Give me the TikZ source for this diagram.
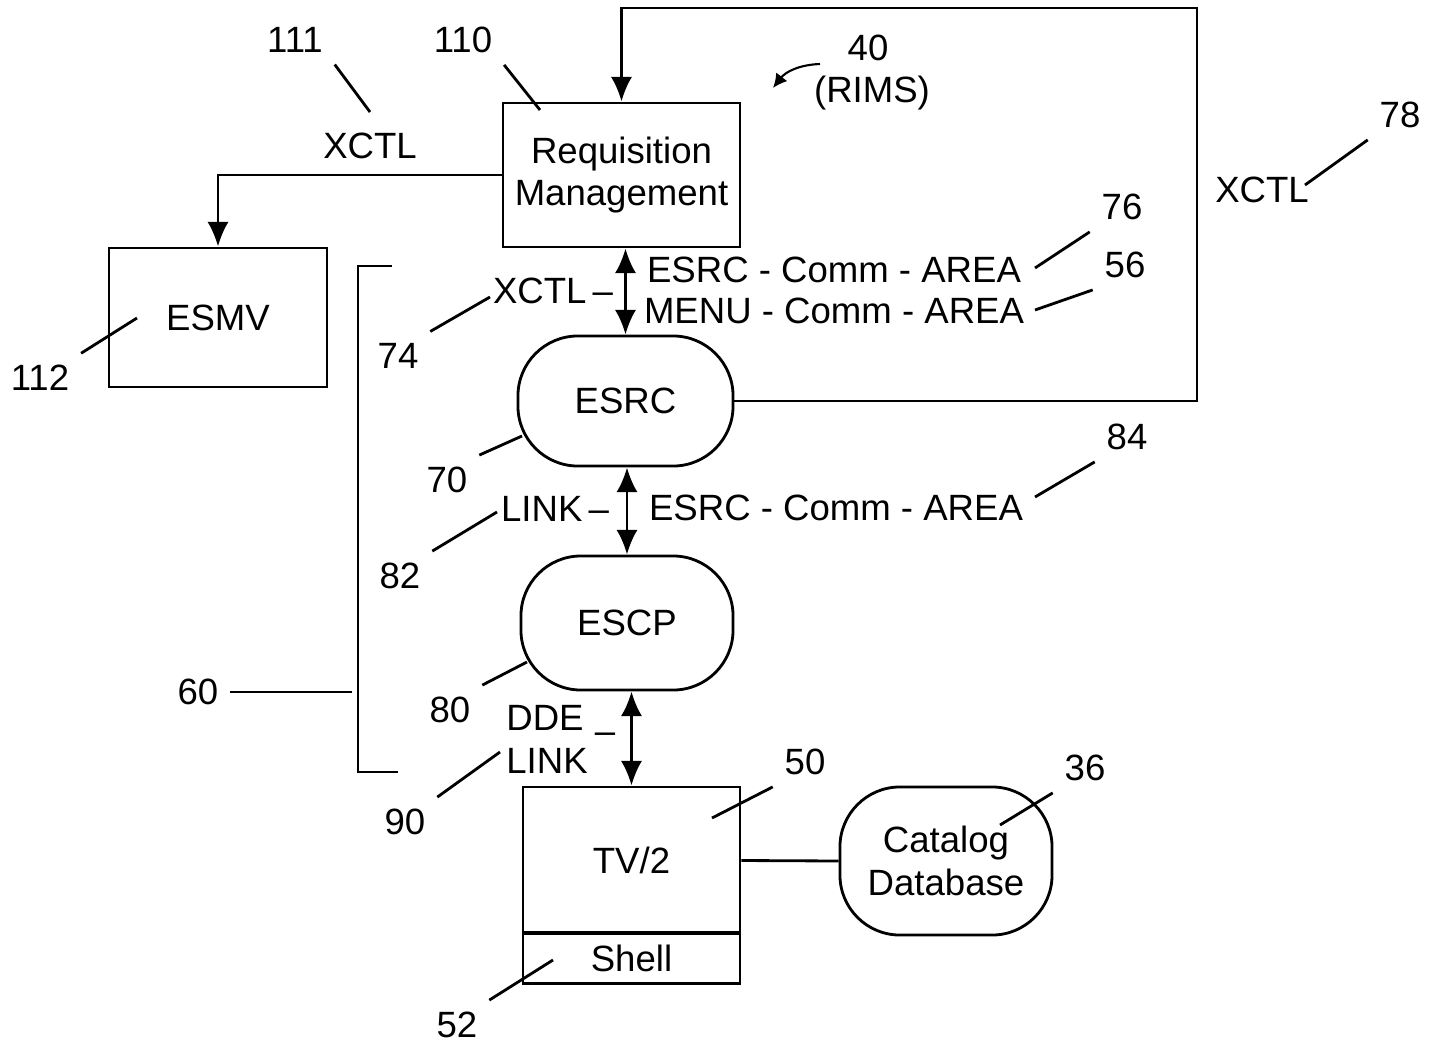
\documentclass[tikz,border=0pt]{standalone}
\usepackage{fontspec}
\setmainfont{Liberation Sans}
\usetikzlibrary{arrows.meta}

\tikzset{
  blk/.style={draw, align=center},
  pill/.style={blk, rounded corners=0.6cm},
  tag/.style={inner sep=3pt},
}

\begin{document}
\begin{tikzpicture}[x=0.01cm, y=-0.01cm, line width=0.8pt,
  >={Latex[length=7pt,width=6pt]}, font=\fontsize{10.4}{12.2}\selectfont]
  \useasboundingbox (0,0) rectangle (1430,1048);

  % blocks
  \node[blk, minimum width=2.37cm, minimum height=1.44cm] (req) at (621.5,175) {Requisition\\Management};
  \node[blk, minimum width=2.18cm, minimum height=1.39cm] (esmv) at (218,317.5) {ESMV};
  \node[pill, minimum width=2.15cm, minimum height=1.30cm] (esrc) at (625.5,401) {ESRC};
  \node[pill, minimum width=2.12cm, minimum height=1.34cm] (escp) at (627,623) {ESCP};
  \node[blk, minimum width=2.17cm, minimum height=1.47cm] (tv) at (631.5,860.5) {TV/2};
  \node[blk, minimum width=2.17cm, minimum height=0.48cm] (shell) at (631.5,958) {Shell};
  \node[pill, minimum width=2.12cm, minimum height=1.48cm] (db) at (946,861) {Catalog\\Database};

  % connectors
  \coordinate (loopr) at (1197,401);
  \coordinate (loopt) at (1197,8);
  \draw[->] (esrc.east) -- (loopr) -- (loopt) -| (req.north);
  \draw[->] (req.west) -| (esmv.north);
  \draw[<->] (esrc.north |- req.south) -- (esrc.north);
  \draw[<->] (escp.north |- esrc.south) -- (escp.north);
  \draw[<->] (tv.north |- escp.south) -- (tv.north);
  \draw (tv.east) -- (db.west);

  % bracket 60
  \coordinate (brt) at (392,266);
  \coordinate (brb) at (398,772);
  \draw (brt) -- (358,266) -- (358,772) -- (brb);

  % texts
  \node (x111) at (370,146) {XCTL};
  \node (x78) at (1262,190) {XCTL};
  \node (c76) at (834,270) {ESRC - Comm - AREA};
  \node (c56) at (834,311) {MENU - Comm - AREA};
  \node (x74) at (553,291) {XCTL\,--};
  \node (l82) at (555,509) {LINK\,--};
  \node (c84) at (836,508) {ESRC - Comm - AREA};
  \node[align=left] (dde) at (547,739) {DDE\\LINK};
  \node[inner sep=0pt] (ddedash) at (605,738) {--};
  \node (rims) at (872,93) {(RIMS)};

  % reference numbers
  \node[tag] (n111) at (295,40) {111};
  \node[tag] (n110) at (463,40) {110};
  \node[tag] (n40) at (868,48) {40};
  \node[tag] (n78) at (1400,115) {78};
  \node[tag] (n76) at (1122,207) {76};
  \node[tag] (n56) at (1125,265) {56};
  \node[tag] (n74) at (398,356) {74};
  \node[tag] (n112) at (40,378) {112};
  \node[tag] (n84) at (1127,437) {84};
  \node[tag] (n70) at (447,480) {70};
  \node[tag] (n82) at (400,576) {82};
  \node[tag] (n60) at (198,692) {60};
  \node[tag] (n80) at (450,710) {80};
  \node[tag] (n50) at (805,762) {50};
  \node[tag] (n36) at (1085,768) {36};
  \node[tag] (n90) at (405,822) {90};
  \node[tag] (n52) at (457,1025) {52};

  % leader lines
  \coordinate (t111) at (370,112);
  \coordinate (t110) at (540,110);
  \coordinate (t78) at (1305,185);
  \coordinate (t76) at (1035,268);
  \coordinate (t56) at (1035,310);
  \coordinate (t74) at (490,297);
  \coordinate (t112) at (137,318);
  \coordinate (t84) at (1035,497);
  \coordinate (t70) at (522,436);
  \coordinate (t82) at (497,512);
  \coordinate (t60) at (352,692);
  \coordinate (t80) at (527,662);
  \coordinate (t50) at (712,818);
  \coordinate (t36) at (1000,825);
  \coordinate (t90) at (500,752);
  \coordinate (t52) at (553,960);
  \draw (n111.south east) -- (t111);
  \draw (n110.south east) -- (t110);
  \draw (n78.south west) -- (t78);
  \draw (n76.south west) -- (t76);
  \draw (n56.south west) -- (t56);
  \draw (n74.north east) -- (t74);
  \draw (n112.north east) -- (t112);
  \draw (n84.south west) -- (t84);
  \draw (n70.north east) -- (t70);
  \draw (n82.north east) -- (t82);
  \draw (n60.east) -- (t60);
  \draw (n80.north east) -- (t80);
  \draw (n50.south west) -- (t50);
  \draw (n36.south west) -- (t36);
  \draw (n90.north east) -- (t90);
  \draw (n52.north east) -- (t52);

  % RIMS pointer
  \coordinate (s40) at (820,64);
  \coordinate (t40) at (773,88);
  \draw[->, line width=0.6pt, >={Latex[length=4pt,width=4pt]}] (s40) to[bend right=25] (t40);
\end{tikzpicture}
\end{document}
